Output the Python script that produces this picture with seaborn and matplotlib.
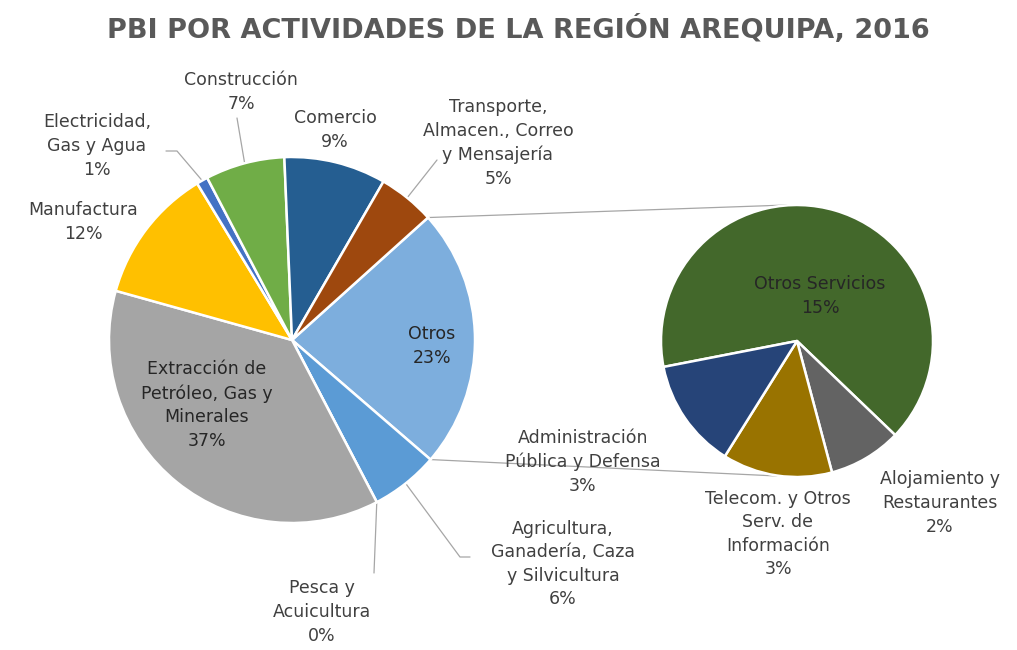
import numpy as np
import matplotlib
matplotlib.use("Agg")
import matplotlib.pyplot as plt
import seaborn as sns

# main pie (clockwise from the "Otros" slice)
main_labels = ["Otros", "Agricultura,\nGanadería, Caza\ny Silvicultura", "Pesca y\nAcuicultura",
               "Extracción de\nPetróleo, Gas y\nMinerales", "Manufactura", "Electricidad,\nGas y Agua",
               "Construcción", "Comercio", "Transporte,\nAlmacen., Correo\ny Mensajería"]
main_values = [23, 6, 0, 37, 12, 1, 7, 9, 5]
main_colors = ["#7DAEDD", "#5B9BD5", "#264478", "#A5A5A5", "#FFC000", "#4472C4",
               "#70AD47", "#255E91", "#9E480E"]

# secondary pie (breakdown of "Otros")
sub_labels = ["Otros Servicios", "Alojamiento y\nRestaurantes", "Telecom. y Otros\nServ. de\nInformación",
              "Administración\nPública y Defensa"]
sub_values = [15, 2, 3, 3]
sub_colors = ["#43682B", "#636363", "#997300", "#264478"]

W, H = 1017, 650
sns.set_theme(style="white")
plt.rcParams["font.family"] = ["DejaVu Sans"]

fig = plt.figure(figsize=(W / 100, H / 100), dpi=100)
ax = fig.add_axes([0, 0, 1, 1])
ax.set_xlim(0, W)
ax.set_ylim(0, H)
ax.set_aspect("equal")
ax.axis("off")

c1 = (292, H - 340)
r1 = 183
c2 = (797, H - 341)
r2 = 136

w1, _ = ax.pie(main_values, colors=main_colors, startangle=42, counterclock=False,
               center=c1, radius=r1, wedgeprops=dict(edgecolor="white", linewidth=1.8))
w2, _ = ax.pie(sub_values, colors=sub_colors, startangle=191, counterclock=False,
               center=c2, radius=r2, wedgeprops=dict(edgecolor="white", linewidth=1.8))
ax.set_xlim(0, W)
ax.set_ylim(0, H)

# connector lines between "Otros" and the secondary pie
th_a = np.deg2rad(w1[0].theta2)
th_b = np.deg2rad(w1[0].theta1)
ax.plot([c1[0] + r1 * np.cos(th_a), c2[0] - 10], [c1[1] + r1 * np.sin(th_a), c2[1] + r2],
        color="#A6A6A6", lw=0.9, zorder=0)
ax.plot([c1[0] + r1 * np.cos(th_b), c2[0] - 20], [c1[1] + r1 * np.sin(th_b), c2[1] - r2 + 1],
        color="#A6A6A6", lw=0.9, zorder=0)

txt = "#404040"
fs = 12.5
lsp = 1.4


def pct(v):
    return f"{v:.0f}%"


# label positions (pixel coords, y from top) and optional leader elbows
main_pos = [(432, 346), (563, 564), (322, 612), (207, 405), (83, 222), (97, 146),
            (241, 92), (335, 130), (498, 143)]
main_lead = [None, [(460, 557), (470, 557)], [(374, 573)], None, None,
             [(177, 151), (166, 151)], [(237, 118)], None, [(437, 160)]]

for w, lab, v, pos, lead in zip(w1, main_labels, main_values, main_pos, main_lead):
    inside = lab in ("Otros", main_labels[3])
    ax.text(pos[0], H - pos[1], lab + "\n" + pct(v), ha="center", va="center",
            fontsize=fs, color="#262626" if inside else txt, linespacing=lsp)
    if lead:
        t = np.deg2rad((w.theta1 + w.theta2) / 2)
        xs = [c1[0] + r1 * np.cos(t)] + [p[0] for p in lead]
        ys = [c1[1] + r1 * np.sin(t)] + [H - p[1] for p in lead]
        ax.plot(xs, ys, color="#A6A6A6", lw=0.9, zorder=0)

sub_pos = [(820, 296), (940, 503), (778, 534), (583, 462)]
for lab, v, pos in zip(sub_labels, sub_values, sub_pos):
    ax.text(pos[0], H - pos[1], lab + "\n" + pct(v), ha="center", va="center",
            fontsize=fs, color="#262626" if pos == sub_pos[0] else txt, linespacing=lsp)

ax.text(W / 2 + 10, H - 30, "PBI POR ACTIVIDADES DE LA REGIÓN AREQUIPA, 2016", ha="center", va="center",
        fontsize=19.5, fontweight="bold", color="#595959")

fig.savefig("out.png", dpi=100)
